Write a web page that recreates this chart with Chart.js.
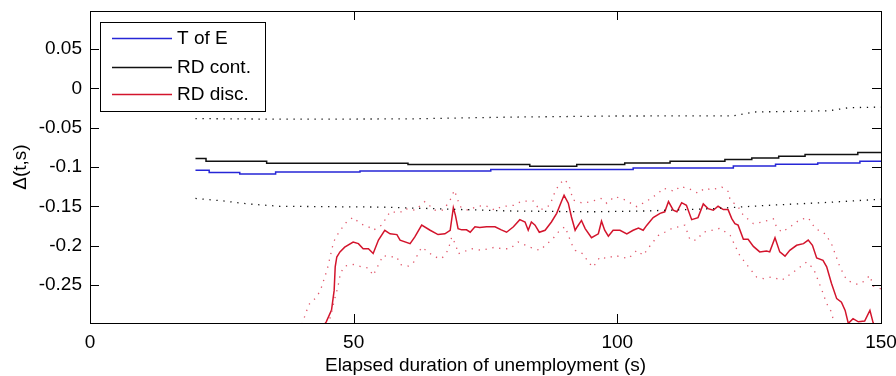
<!DOCTYPE html>
<html>
<head>
<meta charset="utf-8">
<script src="https://cdn.jsdelivr.net/npm/chart.js@4/dist/chart.umd.min.js"></script>
<style>
html,body{margin:0;padding:0;background:#fff;}
#wrap{width:896px;height:376px;}
</style>
</head>
<body>
<div id="wrap"><canvas id="c" width="896" height="376"></canvas></div>
<script>
// ---- data ----
const seriesNames = ["T of E", "RD cont.", "RD disc."];
const xTickValues = [0, 50, 100, 150];
const yTickValues = [-0.25, -0.2, -0.15, -0.1, -0.05, 0, 0.05];

// T of E (blue)
const toeX = [20, 22.6, 28.4, 35.2, 51.2, 76, 103, 122, 130, 138, 146, 150];
const toeY = [-0.1042, -0.1071, -0.1089, -0.1064, -0.1051, -0.1031, -0.1013, -0.0987, -0.0966, -0.0949, -0.0927, -0.0927];

// RD cont. (black)
const contX = [20, 22, 33.5, 60.3, 83.4, 92.3, 101.4, 110, 120.4, 125.5, 130.6, 135.6, 145.6, 150];
const contY = [-0.0893, -0.0927, -0.0951, -0.0969, -0.0991, -0.0969, -0.0949, -0.0927, -0.0906, -0.0885, -0.0864, -0.0842, -0.0817, -0.0817];

// RD cont. confidence band (black dotted)
const contHiX = [20, 36, 60, 80, 100, 122, 126, 140, 144, 150];
const contHiY = [-0.0384, -0.0392, -0.0388, -0.0365, -0.0351, -0.035, -0.030, -0.0285, -0.0245, -0.0238];
const contLoX = [20, 25, 30, 36, 55, 70, 80, 95, 105, 118, 128, 140, 150];
const contLoY = [-0.140, -0.143, -0.147, -0.150, -0.151, -0.154, -0.156, -0.157, -0.156, -0.153, -0.149, -0.145, -0.141];

// RD disc. (red)
const discX = [42.5, 44.0, 44.8, 45.8, 46.3, 46.5, 46.8, 47.4, 48.3, 49.9,
  50.9, 51.8, 52.8, 53.7, 54.7, 55.9, 56.9, 58.2, 58.8, 60.7,
  61.6, 62.9, 64.5, 66.0, 67.3, 68.3, 68.9, 69.3, 69.8, 70.5,
  71.4, 72.1, 73.0, 73.9, 75.2, 76.8, 78.0, 79.0, 80.3, 81.5,
  82.5, 83.1, 83.7, 84.4, 85.2, 86.3, 87.5, 88.5, 89.4, 89.9,
  90.7, 91.3, 92.0, 92.4, 93.2, 93.9, 95.1, 96.4, 97.0, 97.6,
  98.3, 99.2, 100.5, 101.8, 103.0, 104.0, 104.9, 105.6, 106.8, 108.1,
  109.0, 109.7, 110.6, 111.3, 112.2, 113.1, 114.1, 115.3, 116.3, 117.2,
  118.2, 119.1, 120.1, 121.0, 121.7, 122.3, 122.9, 123.9, 124.8, 125.8,
  127.0, 128.3, 128.9, 129.9, 130.8, 131.8, 132.7, 134.0, 135.3, 136.2,
  137.0, 137.8, 139.0, 139.7, 140.6, 141.6, 142.5, 143.2, 143.8, 144.7,
  145.7, 146.9, 147.9, 148.5, 149.6];
const discY = [-0.33, -0.305, -0.297, -0.282, -0.257, -0.227, -0.2145, -0.208, -0.202, -0.1955,
  -0.1975, -0.204, -0.204, -0.210, -0.193, -0.1805, -0.185, -0.186, -0.193, -0.1975,
  -0.189, -0.174, -0.1805, -0.186, -0.185, -0.1805, -0.1517, -0.1615, -0.1784, -0.180,
  -0.180, -0.183, -0.176, -0.177, -0.176, -0.176, -0.180, -0.183, -0.176, -0.167,
  -0.170, -0.1805, -0.170, -0.174, -0.183, -0.1805, -0.170, -0.159, -0.144, -0.136,
  -0.146, -0.1636, -0.1805, -0.176, -0.168, -0.1784, -0.190, -0.185, -0.169, -0.1805,
  -0.188, -0.1805, -0.1805, -0.185, -0.1805, -0.1776, -0.1805, -0.174, -0.1644, -0.159,
  -0.157, -0.144, -0.155, -0.157, -0.1454, -0.1487, -0.167, -0.1644, -0.147, -0.153,
  -0.155, -0.150, -0.1542, -0.1542, -0.1657, -0.172, -0.174, -0.192, -0.192, -0.201,
  -0.208, -0.207, -0.208, -0.190, -0.208, -0.2135, -0.206, -0.1996, -0.1975, -0.193,
  -0.1996, -0.2157, -0.2187, -0.227, -0.248, -0.2675, -0.272, -0.2825, -0.299, -0.293,
  -0.297, -0.296, -0.2825, -0.298, -0.32];

// RD disc. confidence band (red dotted)
const discHiX = [40.2, 41.5, 42.9, 43.7, 45.0, 46.2, 47.2, 48.7, 49.9, 51.2,
  52.8, 53.7, 55.3, 56.9, 58.8, 59.7, 61.6, 63.5, 65.4, 67.0,
  68.3, 69.1, 70.2, 71.7, 73.3, 74.9, 76.8, 78.0, 80.3, 81.9,
  84.1, 85.3, 87.2, 88.2, 89.1, 90.1, 91.0, 91.6, 93.5, 96.1,
  96.9, 98.0, 99.5, 101.5, 103.7, 105.9, 107.8, 108.7, 110.9, 111.9,
  114.1, 115.3, 116.6, 117.9, 119.8, 121.0, 121.4, 122.9, 123.9, 125.8,
  127.5, 129.6, 130.2, 131.2, 133.0, 134.6, 136.2, 137.5, 139.4, 140.6,
  142.2, 143.5, 145.4, 146.3, 147.9, 148.5, 150];
const discHiY = [-0.30, -0.275, -0.266, -0.257, -0.23, -0.195, -0.183, -0.1695, -0.164, -0.172,
  -0.176, -0.1805, -0.174, -0.157, -0.158, -0.153, -0.155, -0.144, -0.155, -0.155,
  -0.142, -0.1296, -0.1505, -0.155, -0.1505, -0.1487, -0.155, -0.1505, -0.1487, -0.1433,
  -0.1433, -0.155, -0.1487, -0.131, -0.1208, -0.1158, -0.127, -0.142, -0.1462, -0.142,
  -0.140, -0.1462, -0.1375, -0.142, -0.1505, -0.142, -0.1334, -0.127, -0.131, -0.1245,
  -0.129, -0.1334, -0.127, -0.129, -0.1255, -0.131, -0.142, -0.1505, -0.1615, -0.172,
  -0.170, -0.166, -0.1765, -0.183, -0.175, -0.167, -0.1645, -0.178, -0.185, -0.1975,
  -0.227, -0.244, -0.249, -0.248, -0.238, -0.2515, -0.255];
const discLoX = [44.8, 45.8, 46.5, 47.0, 47.5, 48.3, 49.9, 51.5, 52.8, 53.7,
  55.6, 56.5, 58.2, 58.8, 60.4, 61.3, 62.9, 64.1, 65.4, 66.7,
  67.9, 68.6, 69.4, 69.8, 72.4, 74.3, 76.8, 78.0, 79.6, 81.2,
  83.4, 85.3, 87.8, 89.1, 90.1, 91.3, 92.0, 93.5, 94.5, 95.4,
  96.7, 98.0, 99.5, 102.1, 103.7, 104.9, 106.5, 107.8, 109.0, 110.3,
  112.8, 113.8, 115.0, 116.3, 117.9, 119.5, 121.4, 123.2, 125.1, 126.4,
  127.7, 129.3, 131.2, 133.4, 135.9, 137.2, 138.7, 139.7, 140.6, 141.5];
const discLoY = [-0.31, -0.285, -0.265, -0.253, -0.235, -0.226, -0.224, -0.227, -0.2285, -0.238,
  -0.2125, -0.214, -0.2145, -0.224, -0.226, -0.222, -0.202, -0.208, -0.2145, -0.2165,
  -0.206, -0.189, -0.1996, -0.2105, -0.204, -0.206, -0.202, -0.204, -0.204, -0.1955,
  -0.202, -0.206, -0.191, -0.1805, -0.176, -0.1975, -0.206, -0.2105, -0.221, -0.2275,
  -0.2145, -0.2165, -0.2125, -0.2165, -0.206, -0.2125, -0.1975, -0.187, -0.183, -0.1784,
  -0.174, -0.193, -0.193, -0.183, -0.1805, -0.178, -0.187, -0.2125, -0.229, -0.240,
  -0.242, -0.240, -0.244, -0.2336, -0.221, -0.2293, -0.255, -0.2738, -0.2845, -0.31];

// ---- build ----
const pts = (xs, ys) => xs.map((x, i) => ({ x: x, y: ys[i] }));
const FONT = "'Liberation Sans', Arial, sans-serif";
const FS = 19;
const BLUE = '#2626d6', BLACK = '#111111', RED = '#d3142c', RED_DOT = '#e0566a';

function solid(label, xs, ys, color, extra) {
  return Object.assign({ label: label, data: pts(xs, ys), borderColor: color, borderWidth: 1.5,
    pointRadius: 0, fill: false, tension: 0 }, extra || {});
}
function dotted(xs, ys, color) {
  return { label: '', data: pts(xs, ys), borderColor: color, borderWidth: 1.3,
    borderDash: [1.3, 5.7], pointRadius: 0, fill: false, tension: 0 };
}

const datasets = [
  dotted(contHiX, contHiY, BLACK),
  dotted(contLoX, contLoY, BLACK),
  dotted(discHiX, discHiY, RED_DOT),
  dotted(discLoX, discLoY, RED_DOT),
  solid(seriesNames[0], toeX, toeY, BLUE, { stepped: 'before' }),
  solid(seriesNames[1], contX, contY, BLACK, { stepped: 'before' }),
  solid(seriesNames[2], discX, discY, RED)
];

const frame = {
  id: 'frame',
  afterDatasetsDraw(chart) {
    const ctx = chart.ctx, a = chart.chartArea;
    const xs = chart.scales.x, ys = chart.scales.y;
    ctx.save();
    ctx.strokeStyle = '#000';
    ctx.lineWidth = 1;
    ctx.strokeRect(Math.round(a.left) + 0.5, Math.round(a.top) + 0.5,
      Math.round(a.right - a.left), Math.round(a.bottom - a.top));
    const L = 9;
    ctx.beginPath();
    xTickValues.forEach(v => {
      const p = Math.round(xs.getPixelForValue(v)) + 0.5;
      ctx.moveTo(p, a.bottom); ctx.lineTo(p, a.bottom - L);
      ctx.moveTo(p, a.top); ctx.lineTo(p, a.top + L);
    });
    yTickValues.forEach(v => {
      const p = Math.round(ys.getPixelForValue(v)) + 0.5;
      ctx.moveTo(a.left, p); ctx.lineTo(a.left + L, p);
      ctx.moveTo(a.right, p); ctx.lineTo(a.right - L, p);
    });
    ctx.stroke();

    // legend box
    const bx = 100.5, by = 22.5, bw = 165, bh = 89;
    ctx.fillStyle = '#fff';
    ctx.fillRect(bx, by, bw, bh);
    ctx.strokeRect(bx, by, bw, bh);
    const rows = [38, 67, 94];
    const colors = [BLUE, BLACK, RED];
    ctx.font = FS + 'px ' + FONT;
    ctx.textBaseline = 'middle';
    ctx.textAlign = 'left';
    seriesNames.forEach((n, i) => {
      ctx.strokeStyle = colors[i];
      ctx.lineWidth = 1.5;
      ctx.beginPath();
      ctx.moveTo(112, rows[i] + 0.5); ctx.lineTo(172, rows[i] + 0.5);
      ctx.stroke();
      ctx.fillStyle = '#000';
      ctx.fillText(n, 177, rows[i] + 1);
    });
    ctx.restore();
  }
};

new Chart(document.getElementById('c'), {
  type: 'line',
  data: { datasets: datasets },
  options: {
    responsive: false,
    animation: false,
    events: [],
    layout: { padding: { top: 11, right: 15, left: 0, bottom: 0 } },
    plugins: { legend: { display: false }, tooltip: { enabled: false }, title: { display: false } },
    scales: {
      x: {
        type: 'linear', min: 0, max: 150,
        grid: { display: false, drawTicks: false },
        border: { display: false },
        afterBuildTicks: s => { s.ticks = xTickValues.map(v => ({ value: v })); },
        afterFit: s => { s.height = 53; s.paddingLeft = 0; s.paddingRight = 0; },
        ticks: { color: '#000', font: { family: FONT, size: FS }, padding: 8, maxRotation: 0,
          callback: v => String(v) },
        title: { display: true, text: 'Elapsed duration of unemployment (s)', color: '#000',
          font: { family: FONT, size: FS }, padding: { top: 0, bottom: -1 } }
      },
      y: {
        type: 'linear', min: -0.2985, max: 0.0985,
        grid: { display: false, drawTicks: false },
        border: { display: false },
        afterBuildTicks: s => { s.ticks = yTickValues.map(v => ({ value: v })); },
        afterFit: s => { s.width = 90; s.paddingTop = 0; s.paddingBottom = 0; },
        ticks: { color: '#000', font: { family: FONT, size: FS }, padding: 8,
          callback: v => String(Math.round(v * 100) / 100) },
        title: { display: true, text: 'Δ(t,s)', color: '#000',
          font: { family: FONT, size: FS }, padding: { top: 9, bottom: 0 } }
      }
    }
  },
  plugins: [frame]
});
</script>
</body>
</html>
